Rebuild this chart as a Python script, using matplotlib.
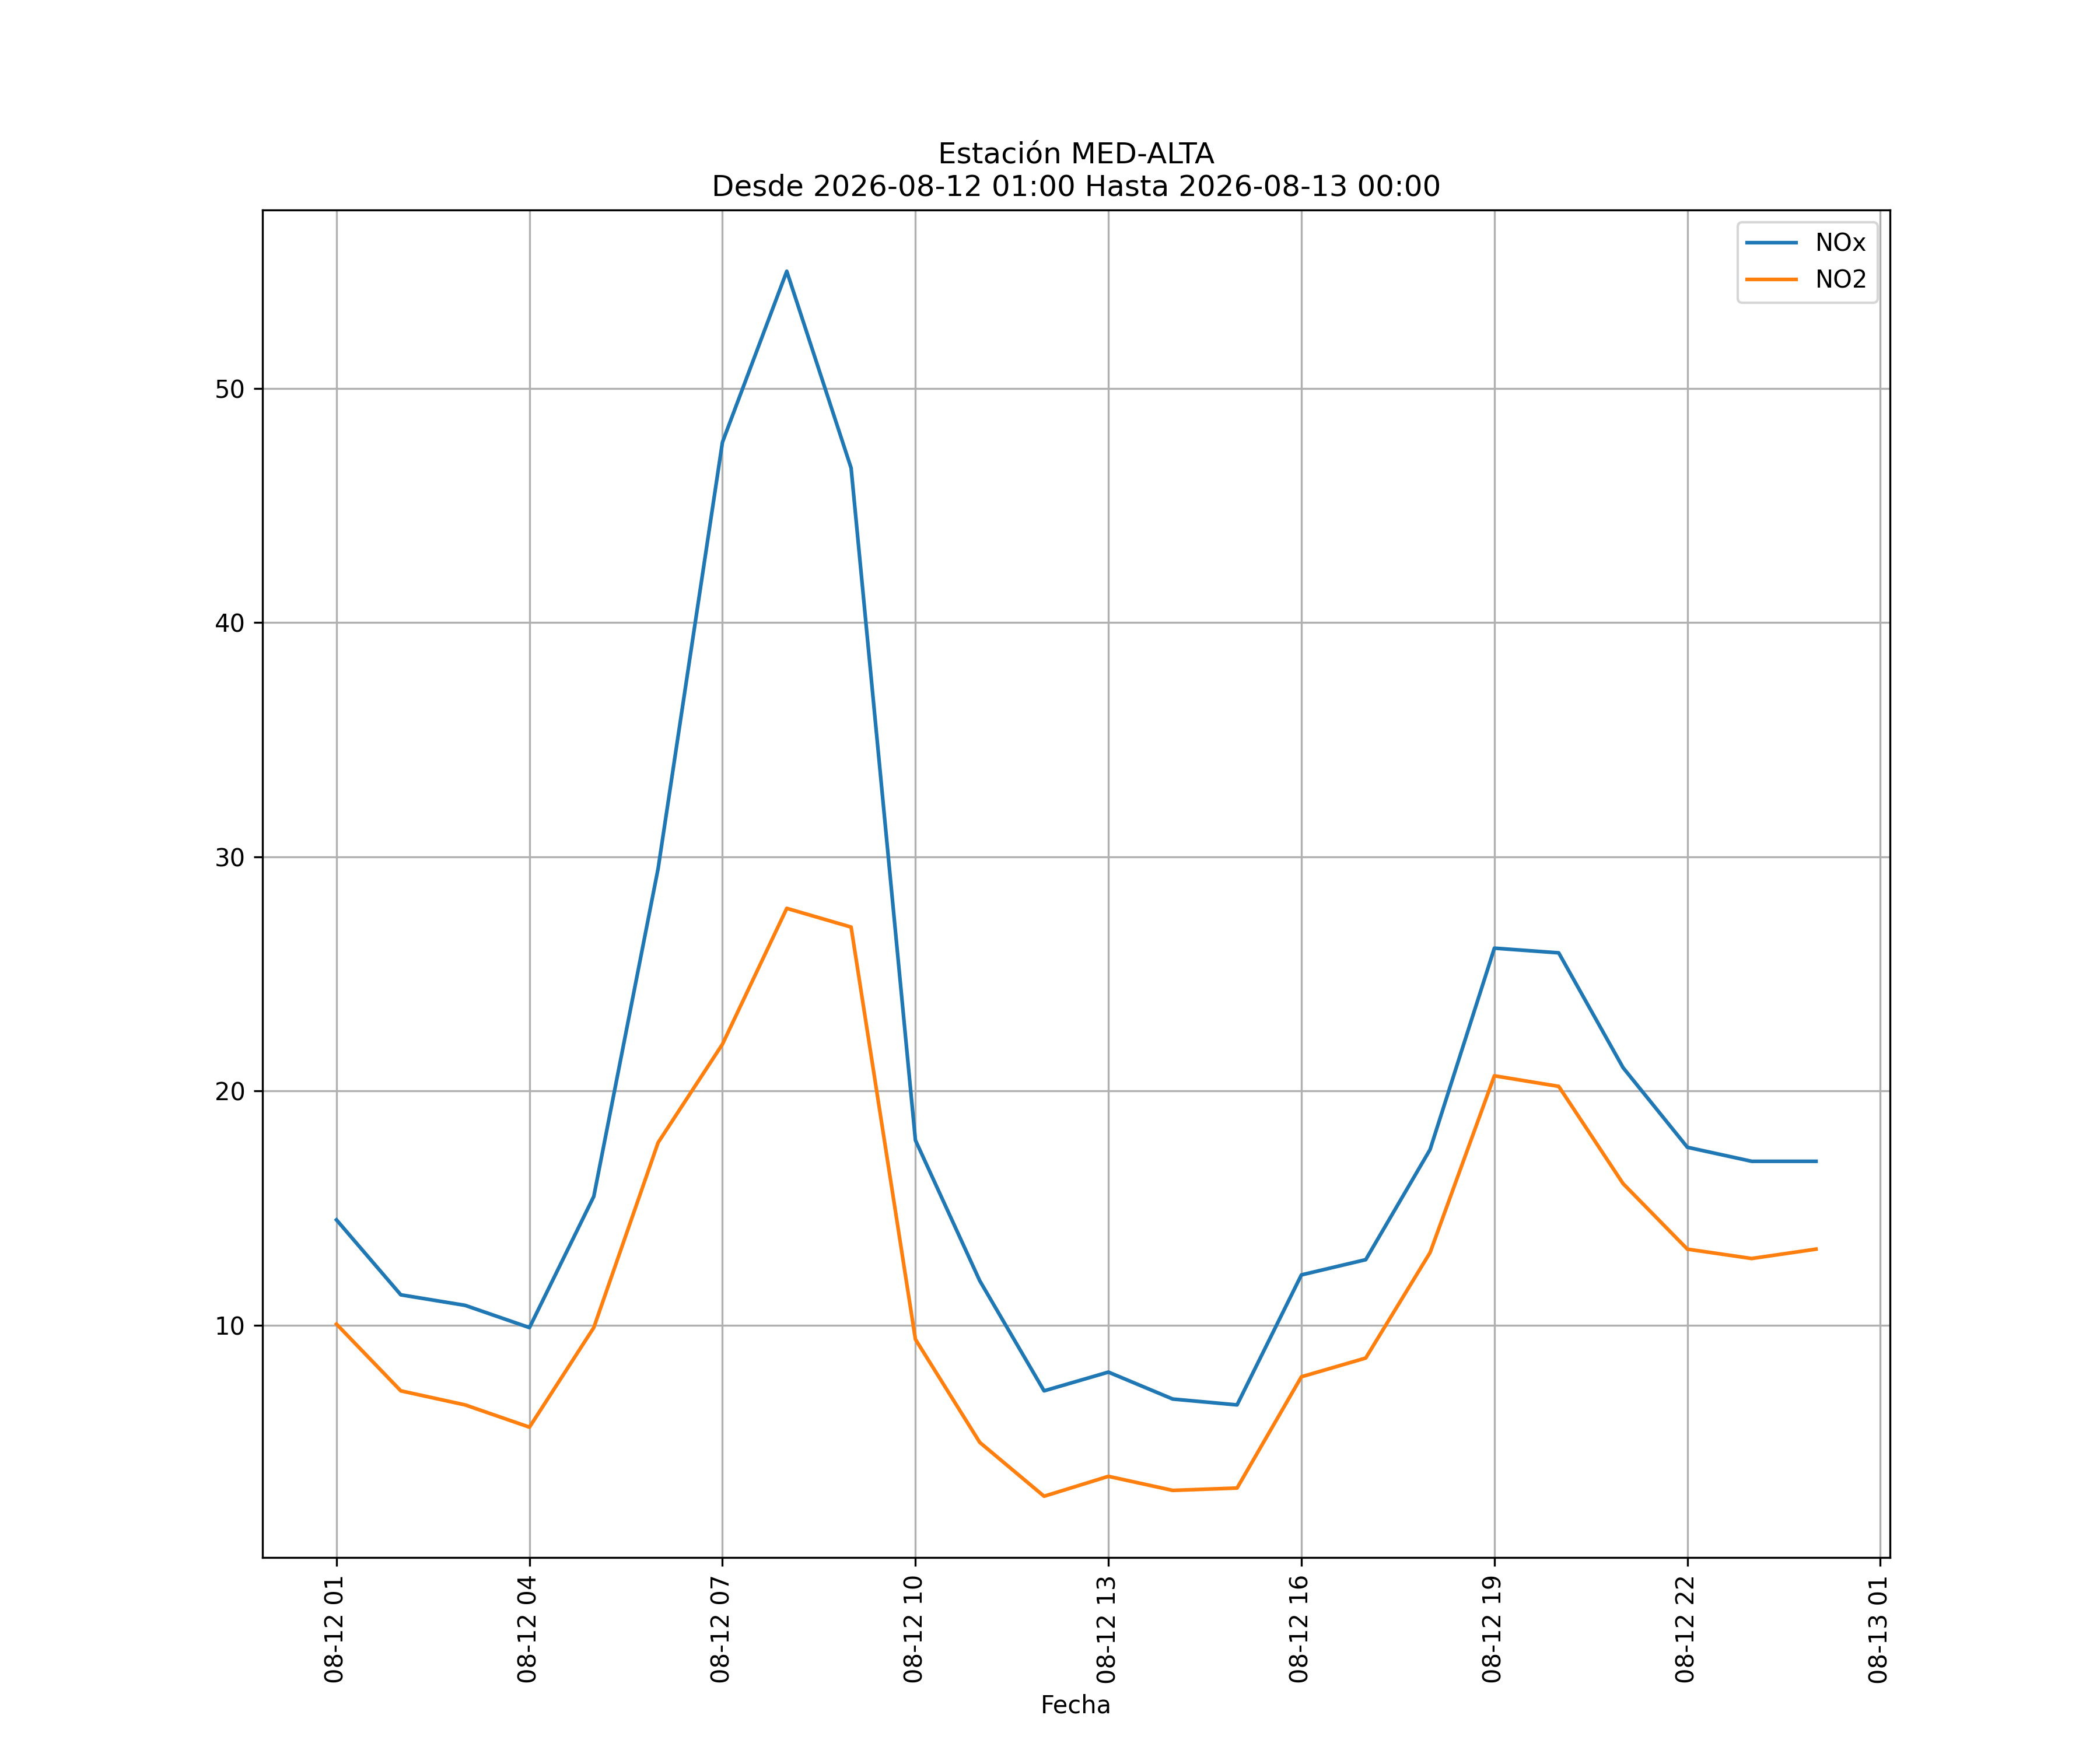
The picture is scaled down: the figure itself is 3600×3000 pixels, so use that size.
import matplotlib
matplotlib.use("Agg")
import matplotlib.pyplot as plt
import matplotlib.dates as mdates
import pandas as pd

times = pd.date_range("2026-08-12 01:00", "2026-08-13 00:00", freq="h")
nox = [14.5, 11.3, 10.85, 9.9, 15.5, 29.5, 47.7, 55.0, 46.6, 17.9, 11.9, 7.2,
       8.0, 6.85, 6.6, 12.15, 12.8, 17.5, 26.1, 25.9, 21.0, 17.6, 17.0, 17.0]
no2 = [10.05, 7.2, 6.6, 5.65, 9.9, 17.8, 22.0, 27.8, 27.0, 9.4, 5.0, 2.7,
       3.55, 2.95, 3.05, 7.8, 8.6, 13.1, 20.65, 20.2, 16.05, 13.25, 12.85, 13.25]

fig, ax = plt.subplots(figsize=(12, 10), dpi=300)
ax.plot(times, nox, label="NOx")
ax.plot(times, no2, label="NO2")
ax.xaxis.set_major_locator(mdates.HourLocator(byhour=range(1, 24, 3)))
ax.xaxis.set_major_formatter(mdates.DateFormatter("%m-%d %H"))
plt.setp(ax.get_xticklabels(), rotation=90)
ax.grid(True)
ax.legend(loc="upper right")
ax.set_xlabel("Fecha")
ax.set_title("Estación MED-ALTA\nDesde 2026-08-12 01:00 Hasta 2026-08-13 00:00")
fig.savefig("out.png")
